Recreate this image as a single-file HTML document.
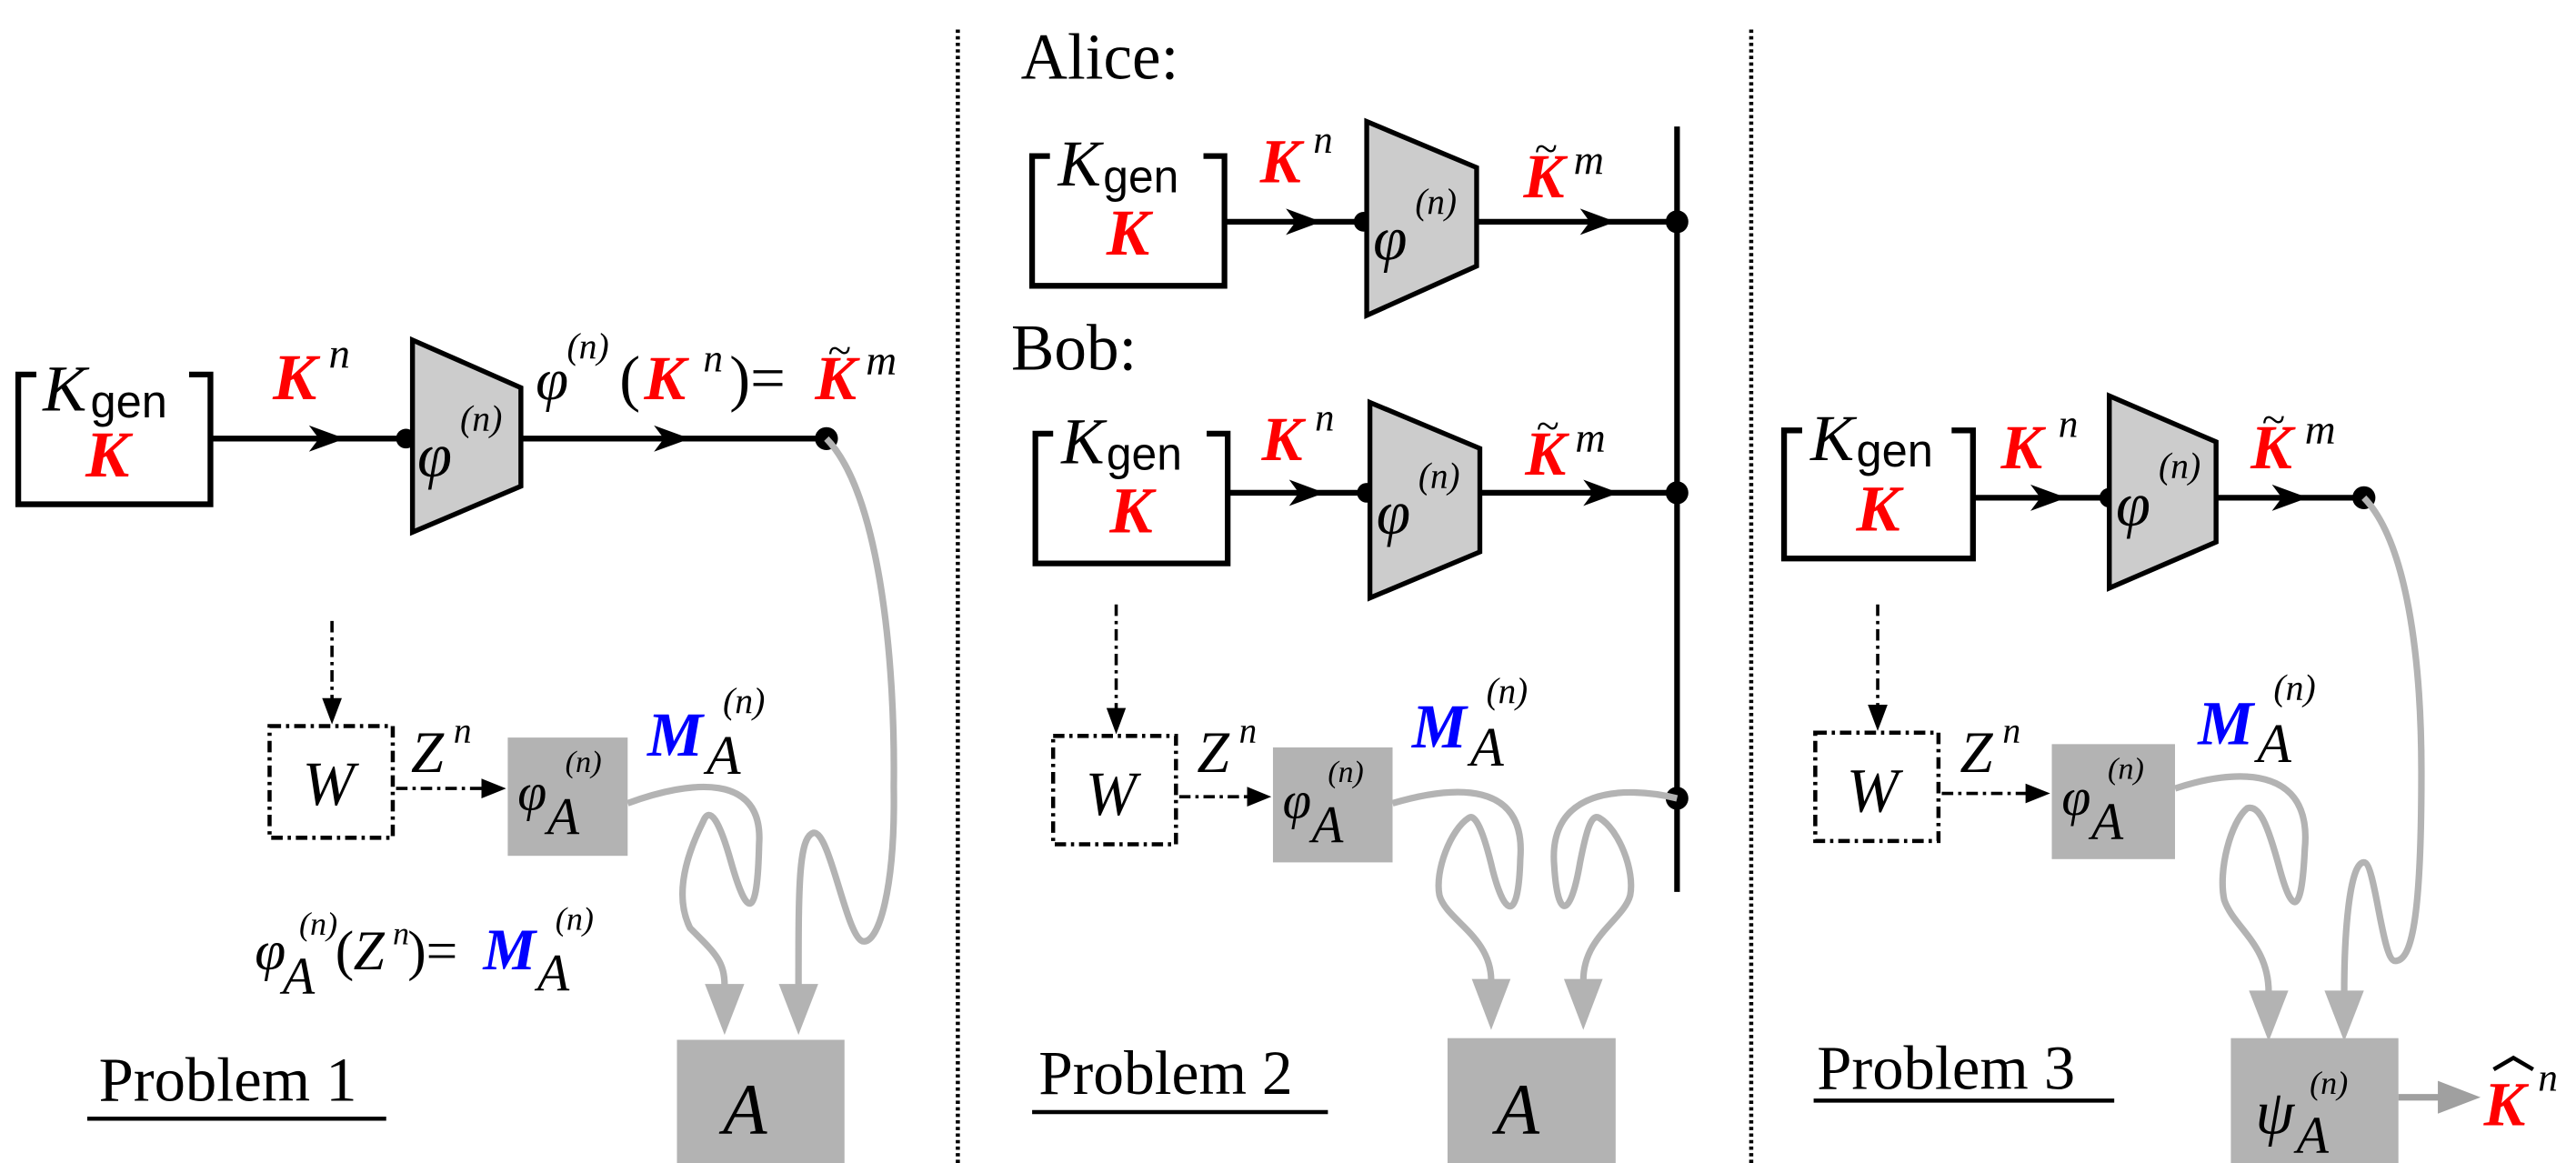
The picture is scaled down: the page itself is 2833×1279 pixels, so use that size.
<!DOCTYPE html>
<html><head><meta charset="utf-8"><style>
html,body{margin:0;padding:0;background:#fff;}
svg{display:block}
text{font-family:"Liberation Serif",serif;}
.m{font-style:italic}
.r{fill:#f00;font-weight:bold;font-style:italic}
.b{fill:#00f;font-weight:bold;font-style:italic}
.s{font-family:"Liberation Sans",sans-serif;}
</style></head><body>
<svg width="2833" height="1279" viewBox="0 0 1568 708" xmlns="http://www.w3.org/2000/svg">
<defs>
<g id="ah"><polygon points="0,0 -22,-8 -16,0 -22,8" fill="#000"/></g>
<g id="ga"><polygon points="-12,0 12,0 0,31" fill="#b3b3b3"/></g>
</defs>
<line x1="583" y1="18" x2="583" y2="708" stroke="#000" stroke-width="2.5" stroke-dasharray="2,2"/>
<line x1="1066" y1="18" x2="1066" y2="708" stroke="#000" stroke-width="2.5" stroke-dasharray="2,2"/>

<!-- ===== Problem 1 ===== -->
<path d="M22,228 H11 V307 H128 V228 H115" fill="none" stroke="#000" stroke-width="3.5"/>
<text x="26" y="250" class="m" font-size="40">K</text><text x="55" y="254" class="s" font-size="28">gen</text>
<text x="52" y="290" class="r" font-size="40">K</text>
<text x="166" y="243" class="r" font-size="40">K</text><text x="200" y="224" class="m" font-size="26">n</text>
<line x1="128" y1="267" x2="249" y2="267" stroke="#000" stroke-width="3.5"/>
<use href="#ah" x="210" y="267"/>
<circle cx="247" cy="267" r="6"/>
<polygon points="251,207 317,236 317,296 251,324" fill="#ccc" stroke="#000" stroke-width="3"/>
<text x="254" y="290" class="m" font-size="38">φ</text><text x="280" y="262" class="m" font-size="22">(n)</text>
<line x1="317" y1="267" x2="503" y2="267" stroke="#000" stroke-width="3.5"/>
<use href="#ah" x="420" y="267"/>
<circle cx="503" cy="267" r="7"/>
<text x="326" y="243" class="m" font-size="36">φ</text><text x="345" y="218" class="m" font-size="22">(n)</text>
<text x="377" y="243" font-size="38">(</text><text x="392" y="243" class="r" font-size="38">K</text><text x="428" y="226" class="m" font-size="24">n</text><text x="444" y="243" font-size="38">)=</text>
<text x="496" y="243" class="r" font-size="38">K</text><text x="504" y="222" font-size="26">~</text><text x="527" y="228" class="m" font-size="26">m</text>
<line x1="202" y1="378" x2="202" y2="428" stroke="#000" stroke-width="2" stroke-dasharray="7,3,2,3"/>
<polygon points="202,441 196,425 208,425"/>
<rect x="164" y="442" width="75" height="68" fill="none" stroke="#000" stroke-width="2.5" stroke-dasharray="7,3,2,3"/>
<text x="184" y="490" class="m" font-size="38">W</text>
<text x="250" y="470" class="m" font-size="36">Z</text><text x="276" y="452" class="m" font-size="22">n</text>
<line x1="241" y1="480" x2="296" y2="480" stroke="#000" stroke-width="2" stroke-dasharray="7,3,2,3"/>
<polygon points="308,480 293,474 293,486"/>
<rect x="309" y="449" width="73" height="72" fill="#b3b3b3"/>
<text x="315" y="493" class="m" font-size="32">φ</text><text x="333" y="508" class="m" font-size="32">A</text><text x="344" y="470" class="m" font-size="19">(n)</text>
<text x="394" y="460" class="b" font-size="38">M</text><text x="430" y="471" class="m" font-size="34">A</text><text x="440" y="434" class="m" font-size="22">(n)</text>
<text x="155" y="590" class="m" font-size="34">φ</text><text x="172" y="605" class="m" font-size="32">A</text><text x="182" y="569" class="m" font-size="20">(n)</text>
<text x="204" y="590" font-size="34">(</text><text x="215" y="590" class="m" font-size="34">Z</text><text x="239" y="575" class="m" font-size="20">n</text><text x="248" y="590" font-size="34">)=</text>
<text x="294" y="590" class="b" font-size="36">M</text><text x="327" y="603" class="m" font-size="32">A</text><text x="338" y="566" class="m" font-size="20">(n)</text>
<text x="60" y="670" font-size="38">Problem 1</text>
<line x1="53" y1="681" x2="235" y2="681" stroke="#000" stroke-width="2.5"/>
<rect x="412" y="633" width="102" height="75" fill="#b3b3b3"/>
<text x="440" y="690" class="m" font-size="44">A</text>
<g fill="none" stroke="#b3b3b3" stroke-width="4">
<path d="M382,489 C420,475 465,470 462,514 C461,560 455,560 445,525 C438,500 432,490 428,500 C418,520 410,545 420,565 C435,580 441,585 441,600"/>
<path d="M503,267 C535,300 545,400 544,479 C545,540 535,575 525,573 C515,570 505,505 495,507 C486,510 486,540 486,600"/>
</g>
<use href="#ga" x="441" y="599"/><use href="#ga" x="486" y="599"/>

<!-- ===== Problem 2 ===== -->
<g transform="translate(581,0) scale(0.984,1) translate(-581,0)">
<text x="622" y="48" font-size="40">Alice:</text>
<text x="616" y="225" font-size="40">Bob:</text>
<line x1="1028" y1="77" x2="1028" y2="543" stroke="#000" stroke-width="3.5"/>
<path d="M640,95 H629 V174 H748 V95 H735" fill="none" stroke="#000" stroke-width="3.5"/>
<text x="645" y="113" class="m" font-size="40">K</text><text x="673" y="117" class="s" font-size="28">gen</text>
<text x="675" y="155" class="r" font-size="40">K</text>
<text x="770" y="111" class="r" font-size="38">K</text><text x="803" y="93" class="m" font-size="24">n</text>
<line x1="748" y1="135" x2="836" y2="135" stroke="#000" stroke-width="3.5"/>
<use href="#ah" x="808" y="135"/><circle cx="834" cy="135" r="6"/>
<polygon points="836,74 904,102 904,162 836,192" fill="#ccc" stroke="#000" stroke-width="3"/>
<text x="840" y="158" class="m" font-size="38">φ</text><text x="866" y="130" class="m" font-size="22">(n)</text>
<line x1="904" y1="135" x2="1028" y2="135" stroke="#000" stroke-width="3.5"/>
<use href="#ah" x="990" y="135"/><circle cx="1028" cy="135" r="7"/>
<text x="933" y="120" class="r" font-size="38">K</text><text x="940" y="99" font-size="26">~</text><text x="964" y="106" class="m" font-size="26">m</text>
<path d="M642,264 H631 V343 H750 V264 H737" fill="none" stroke="#000" stroke-width="3.5"/>
<text x="647" y="282" class="m" font-size="40">K</text><text x="675" y="286" class="s" font-size="28">gen</text>
<text x="677" y="324" class="r" font-size="40">K</text>
<text x="771" y="280" class="r" font-size="38">K</text><text x="804" y="262" class="m" font-size="24">n</text>
<line x1="750" y1="300" x2="838" y2="300" stroke="#000" stroke-width="3.5"/>
<use href="#ah" x="810" y="300"/><circle cx="836" cy="300" r="6"/>
<polygon points="838,245 906,273 906,336 838,364" fill="#ccc" stroke="#000" stroke-width="3"/>
<text x="842" y="325" class="m" font-size="38">φ</text><text x="868" y="297" class="m" font-size="22">(n)</text>
<line x1="906" y1="300" x2="1028" y2="300" stroke="#000" stroke-width="3.5"/>
<use href="#ah" x="992" y="300"/><circle cx="1028" cy="300" r="7"/>
<text x="934" y="289" class="r" font-size="38">K</text><text x="941" y="268" font-size="26">~</text><text x="965" y="275" class="m" font-size="26">m</text>
<circle cx="1028" cy="486" r="7"/>
<line x1="681" y1="368" x2="681" y2="434" stroke="#000" stroke-width="2" stroke-dasharray="7,3,2,3"/>
<polygon points="681,447 675,431 687,431"/>
<rect x="642" y="448" width="76" height="66" fill="none" stroke="#000" stroke-width="2.5" stroke-dasharray="7,3,2,3"/>
<text x="662" y="496" class="m" font-size="38">W</text>
<text x="731" y="470" class="m" font-size="36">Z</text><text x="757" y="452" class="m" font-size="22">n</text>
<line x1="720" y1="485" x2="765" y2="485" stroke="#000" stroke-width="2" stroke-dasharray="7,3,2,3"/>
<polygon points="777,485 762,479 762,491"/>
<rect x="778" y="455" width="74" height="70" fill="#b3b3b3"/>
<text x="784" y="498" class="m" font-size="32">φ</text><text x="802" y="513" class="m" font-size="32">A</text><text x="812" y="476" class="m" font-size="19">(n)</text>
<text x="864" y="455" class="b" font-size="38">M</text><text x="900" y="466" class="m" font-size="34">A</text><text x="910" y="428" class="m" font-size="22">(n)</text>
<text x="633" y="666" font-size="38">Problem 2</text>
<line x1="629" y1="677" x2="812" y2="677" stroke="#000" stroke-width="2.5"/>
<rect x="886" y="632" width="104" height="76" fill="#b3b3b3"/>
<text x="916" y="690" class="m" font-size="44">A</text>
<g fill="none" stroke="#b3b3b3" stroke-width="4">
<path d="M852,489 C890,478 935,475 931,523 C930,560 922,560 914,530 C908,505 903,495 899,498 C888,505 878,530 881,545 C885,560 913,570 913,597"/>
<path d="M1028,486 C995,478 948,480 952,527 C954,560 962,560 968,525 C972,505 975,495 980,498 C992,505 1002,530 999,545 C995,560 970,570 970,597"/>
</g>
<use href="#ga" x="913" y="596"/><use href="#ga" x="970" y="596"/>
</g>

<!-- ===== Problem 3 ===== -->
<path d="M1097,262 H1086 V340 H1201 V262 H1188" fill="none" stroke="#000" stroke-width="3.5"/>
<text x="1102" y="280" class="m" font-size="40">K</text><text x="1130" y="284" class="s" font-size="28">gen</text>
<text x="1130" y="323" class="r" font-size="40">K</text>
<text x="1218" y="285" class="r" font-size="38">K</text><text x="1253" y="266" class="m" font-size="24">n</text>
<line x1="1201" y1="303" x2="1286" y2="303" stroke="#000" stroke-width="3.5"/>
<use href="#ah" x="1258" y="303"/><circle cx="1284" cy="303" r="6"/>
<polygon points="1284,241 1349,269 1349,330 1284,358" fill="#ccc" stroke="#000" stroke-width="3"/>
<text x="1288" y="320" class="m" font-size="38">φ</text><text x="1314" y="291" class="m" font-size="22">(n)</text>
<line x1="1349" y1="303" x2="1439" y2="303" stroke="#000" stroke-width="3.5"/>
<use href="#ah" x="1405" y="303"/><circle cx="1439" cy="303" r="7"/>
<text x="1370" y="285" class="r" font-size="38">K</text><text x="1377" y="264" font-size="26">~</text><text x="1403" y="270" class="m" font-size="26">m</text>
<line x1="1143" y1="368" x2="1143" y2="432" stroke="#000" stroke-width="2" stroke-dasharray="7,3,2,3"/>
<polygon points="1143,445 1137,429 1149,429"/>
<rect x="1105" y="446" width="75" height="66" fill="none" stroke="#000" stroke-width="2.5" stroke-dasharray="7,3,2,3"/>
<text x="1124" y="494" class="m" font-size="38">W</text>
<text x="1193" y="470" class="m" font-size="36">Z</text><text x="1219" y="452" class="m" font-size="22">n</text>
<line x1="1182" y1="483" x2="1236" y2="483" stroke="#000" stroke-width="2" stroke-dasharray="7,3,2,3"/>
<polygon points="1248,483 1233,477 1233,489"/>
<rect x="1249" y="453" width="75" height="70" fill="#b3b3b3"/>
<text x="1255" y="496" class="m" font-size="32">φ</text><text x="1273" y="511" class="m" font-size="32">A</text><text x="1283" y="474" class="m" font-size="19">(n)</text>
<text x="1338" y="453" class="b" font-size="38">M</text><text x="1374" y="464" class="m" font-size="34">A</text><text x="1384" y="426" class="m" font-size="22">(n)</text>
<text x="1106" y="663" font-size="38">Problem 3</text>
<line x1="1104" y1="670" x2="1287" y2="670" stroke="#000" stroke-width="2.5"/>
<rect x="1358" y="632" width="102" height="76" fill="#b3b3b3"/>
<text x="1373" y="690" class="m" font-size="38">ψ</text><text x="1398" y="702" class="m" font-size="32">A</text><text x="1406" y="666" class="m" font-size="20">(n)</text>
<line x1="1460" y1="668" x2="1486" y2="668" stroke="#a0a0a0" stroke-width="4"/>
<polygon points="1510,668 1484,658 1484,678" fill="#a0a0a0"/>
<text x="1512" y="685" class="r" font-size="38">K</text>
<polyline points="1518,651 1530,644 1542,651" fill="none" stroke="#000" stroke-width="2.5"/>
<text x="1545" y="664" class="m" font-size="24">n</text>
<g fill="none" stroke="#b3b3b3" stroke-width="4">
<path d="M1324,480 C1360,468 1408,465 1403,517 C1401,560 1395,555 1388,530 C1380,500 1375,490 1368,492 C1358,500 1350,530 1354,548 C1360,565 1381,575 1381,604"/>
<path d="M1439,303 C1465,330 1474,400 1474,470 C1474,560 1468,585 1458,585 C1450,585 1446,525 1439,525 C1430,525 1427,570 1427,604"/>
</g>
<use href="#ga" x="1381" y="603"/><use href="#ga" x="1427" y="603"/>
</svg>
</body></html>
